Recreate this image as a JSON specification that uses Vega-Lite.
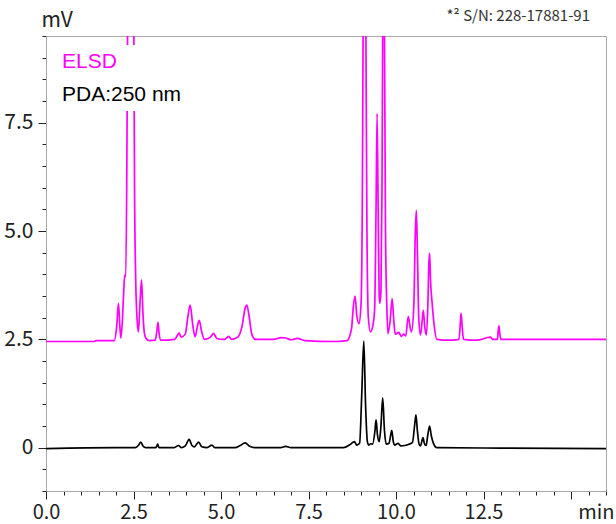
{
  "$schema": "https://vega.github.io/schema/vega-lite/v6.json",
  "width": 560,
  "height": 455,
  "autosize": {"type": "none"},
  "padding": {"left": 46, "top": 36, "right": 10, "bottom": 33},
  "background": "white",
  "config": {
    "font": "Noto Sans CJK JP",
    "view": {"stroke": "#a8a8a8", "strokeWidth": 1},
    "axis": {"labelFont": "Noto Sans CJK JP", "titleFont": "Noto Sans CJK JP", "labelColor": "#222", "titleColor": "#222", "titleFontWeight": "normal", "domainColor": "#a8a8a8", "tickColor": "#222", "grid": false}
  },
  "title": {"text": "*² S/N: 228-17881-91", "anchor": "end", "orient": "top", "fontSize": 15, "fontWeight": "normal", "color": "#333", "dx": -24, "offset": -15, "font": "Noto Sans CJK JP"},
  "data": {"values": [
    {"s":"ELSD","t":0,"v":2.45},{"s":"ELSD","t":1.38,"v":2.45},{"s":"ELSD","t":1.42,"v":2.47},{"s":"ELSD","t":1.95,"v":2.47},
    {"s":"ELSD","t":2.02,"v":2.8},{"s":"ELSD","t":2.07,"v":3.33},{"s":"ELSD","t":2.11,"v":2.8},{"s":"ELSD","t":2.14,"v":2.53},
    {"s":"ELSD","t":2.18,"v":2.9},{"s":"ELSD","t":2.22,"v":3.6},{"s":"ELSD","t":2.25,"v":3.98},{"s":"ELSD","t":2.28,"v":3.95},
    {"s":"ELSD","t":2.31,"v":6.5},{"s":"ELSD","t":2.33,"v":9.6},{"s":"ELSD","t":2.42,"v":18},{"s":"ELSD","t":2.51,"v":9.6},
    {"s":"ELSD","t":2.53,"v":6.0},{"s":"ELSD","t":2.56,"v":4.0},{"s":"ELSD","t":2.6,"v":3.0},{"s":"ELSD","t":2.64,"v":2.67},
    {"s":"ELSD","t":2.69,"v":3.4},{"s":"ELSD","t":2.73,"v":3.87},{"s":"ELSD","t":2.77,"v":3.1},{"s":"ELSD","t":2.81,"v":2.65},
    {"s":"ELSD","t":2.86,"v":2.52},{"s":"ELSD","t":2.95,"v":2.47},{"s":"ELSD","t":3.12,"v":2.48},{"s":"ELSD","t":3.17,"v":2.7},
    {"s":"ELSD","t":3.2,"v":2.89},{"s":"ELSD","t":3.23,"v":2.65},{"s":"ELSD","t":3.28,"v":2.48},{"s":"ELSD","t":3.68,"v":2.5},
    {"s":"ELSD","t":3.76,"v":2.6},{"s":"ELSD","t":3.8,"v":2.65},{"s":"ELSD","t":3.86,"v":2.55},{"s":"ELSD","t":3.98,"v":2.62},
    {"s":"ELSD","t":4.05,"v":3.0},{"s":"ELSD","t":4.12,"v":3.29},{"s":"ELSD","t":4.19,"v":2.85},{"s":"ELSD","t":4.26,"v":2.56},
    {"s":"ELSD","t":4.33,"v":2.82},{"s":"ELSD","t":4.38,"v":2.94},{"s":"ELSD","t":4.44,"v":2.7},{"s":"ELSD","t":4.53,"v":2.5},
    {"s":"ELSD","t":4.7,"v":2.55},{"s":"ELSD","t":4.79,"v":2.64},{"s":"ELSD","t":4.88,"v":2.52},{"s":"ELSD","t":5.1,"v":2.5},
    {"s":"ELSD","t":5.22,"v":2.57},{"s":"ELSD","t":5.3,"v":2.5},{"s":"ELSD","t":5.48,"v":2.55},{"s":"ELSD","t":5.6,"v":2.8},
    {"s":"ELSD","t":5.69,"v":3.22},{"s":"ELSD","t":5.74,"v":3.29},{"s":"ELSD","t":5.8,"v":3.05},{"s":"ELSD","t":5.88,"v":2.62},
    {"s":"ELSD","t":5.98,"v":2.5},{"s":"ELSD","t":6.5,"v":2.5},{"s":"ELSD","t":6.72,"v":2.54},{"s":"ELSD","t":6.85,"v":2.53},
    {"s":"ELSD","t":7.0,"v":2.49},{"s":"ELSD","t":7.18,"v":2.52},{"s":"ELSD","t":7.4,"v":2.47},{"s":"ELSD","t":8.2,"v":2.45},
    {"s":"ELSD","t":8.6,"v":2.47},{"s":"ELSD","t":8.73,"v":2.75},{"s":"ELSD","t":8.78,"v":3.25},{"s":"ELSD","t":8.83,"v":3.5},
    {"s":"ELSD","t":8.88,"v":3.05},{"s":"ELSD","t":8.94,"v":2.86},{"s":"ELSD","t":9.0,"v":3.3},{"s":"ELSD","t":9.04,"v":6.0},
    {"s":"ELSD","t":9.06,"v":9.6},{"s":"ELSD","t":9.1,"v":16},{"s":"ELSD","t":9.14,"v":9.6},{"s":"ELSD","t":9.17,"v":5.0},
    {"s":"ELSD","t":9.21,"v":3.0},{"s":"ELSD","t":9.27,"v":2.67},{"s":"ELSD","t":9.34,"v":2.82},{"s":"ELSD","t":9.39,"v":3.2},
    {"s":"ELSD","t":9.43,"v":5.5},{"s":"ELSD","t":9.46,"v":7.71},{"s":"ELSD","t":9.49,"v":5.5},{"s":"ELSD","t":9.52,"v":3.5},
    {"s":"ELSD","t":9.54,"v":3.33},{"s":"ELSD","t":9.57,"v":3.6},{"s":"ELSD","t":9.6,"v":6.0},{"s":"ELSD","t":9.62,"v":9.6},
    {"s":"ELSD","t":9.645,"v":16},{"s":"ELSD","t":9.67,"v":9.6},{"s":"ELSD","t":9.7,"v":5.0},{"s":"ELSD","t":9.74,"v":3.2},
    {"s":"ELSD","t":9.77,"v":2.63},{"s":"ELSD","t":9.83,"v":2.9},{"s":"ELSD","t":9.89,"v":3.44},{"s":"ELSD","t":9.94,"v":2.9},
    {"s":"ELSD","t":9.98,"v":2.62},{"s":"ELSD","t":10.08,"v":2.66},{"s":"ELSD","t":10.15,"v":2.57},{"s":"ELSD","t":10.22,"v":2.62},
    {"s":"ELSD","t":10.28,"v":2.58},{"s":"ELSD","t":10.35,"v":3.03},{"s":"ELSD","t":10.4,"v":2.8},{"s":"ELSD","t":10.44,"v":2.67},
    {"s":"ELSD","t":10.51,"v":3.3},{"s":"ELSD","t":10.55,"v":4.9},{"s":"ELSD","t":10.58,"v":5.48},{"s":"ELSD","t":10.61,"v":4.6},
    {"s":"ELSD","t":10.65,"v":3.0},{"s":"ELSD","t":10.7,"v":2.6},{"s":"ELSD","t":10.75,"v":2.95},{"s":"ELSD","t":10.78,"v":3.17},
    {"s":"ELSD","t":10.82,"v":2.8},{"s":"ELSD","t":10.87,"v":2.6},{"s":"ELSD","t":10.91,"v":3.3},{"s":"ELSD","t":10.94,"v":4.25},
    {"s":"ELSD","t":10.96,"v":4.49},{"s":"ELSD","t":10.99,"v":3.8},{"s":"ELSD","t":11.03,"v":3.36},{"s":"ELSD","t":11.08,"v":2.9},
    {"s":"ELSD","t":11.17,"v":2.5},{"s":"ELSD","t":11.5,"v":2.48},{"s":"ELSD","t":11.8,"v":2.5},{"s":"ELSD","t":11.84,"v":2.9},
    {"s":"ELSD","t":11.86,"v":3.1},{"s":"ELSD","t":11.89,"v":2.8},{"s":"ELSD","t":11.93,"v":2.5},{"s":"ELSD","t":12.3,"v":2.48},
    {"s":"ELSD","t":12.7,"v":2.55},{"s":"ELSD","t":12.76,"v":2.5},{"s":"ELSD","t":12.9,"v":2.5},{"s":"ELSD","t":12.92,"v":2.7},
    {"s":"ELSD","t":12.94,"v":2.81},{"s":"ELSD","t":12.97,"v":2.6},{"s":"ELSD","t":13.0,"v":2.5},{"s":"ELSD","t":14.5,"v":2.5},
    {"s":"ELSD","t":16,"v":2.5},
    {"s":"PDA:250 nm","t":0,"v":-0.02},{"s":"PDA:250 nm","t":2.0,"v":0},{"s":"PDA:250 nm","t":2.55,"v":0},{"s":"PDA:250 nm","t":2.65,"v":0.06},
    {"s":"PDA:250 nm","t":2.71,"v":0.13},{"s":"PDA:250 nm","t":2.77,"v":0.04},{"s":"PDA:250 nm","t":2.85,"v":0},{"s":"PDA:250 nm","t":3.14,"v":0},
    {"s":"PDA:250 nm","t":3.19,"v":0.08},{"s":"PDA:250 nm","t":3.23,"v":0},{"s":"PDA:250 nm","t":3.65,"v":0},{"s":"PDA:250 nm","t":3.79,"v":0.05},
    {"s":"PDA:250 nm","t":3.86,"v":0},{"s":"PDA:250 nm","t":3.98,"v":0.04},{"s":"PDA:250 nm","t":4.09,"v":0.19},{"s":"PDA:250 nm","t":4.17,"v":0.05},
    {"s":"PDA:250 nm","t":4.24,"v":0.02},{"s":"PDA:250 nm","t":4.36,"v":0.13},{"s":"PDA:250 nm","t":4.45,"v":0.02},{"s":"PDA:250 nm","t":4.6,"v":0},
    {"s":"PDA:250 nm","t":4.74,"v":0.06},{"s":"PDA:250 nm","t":4.82,"v":0},{"s":"PDA:250 nm","t":5.4,"v":0},{"s":"PDA:250 nm","t":5.55,"v":0.05},
    {"s":"PDA:250 nm","t":5.69,"v":0.11},{"s":"PDA:250 nm","t":5.82,"v":0.03},{"s":"PDA:250 nm","t":5.95,"v":0},{"s":"PDA:250 nm","t":6.7,"v":0},
    {"s":"PDA:250 nm","t":6.85,"v":0.03},{"s":"PDA:250 nm","t":7.0,"v":0},{"s":"PDA:250 nm","t":8.5,"v":0},{"s":"PDA:250 nm","t":8.7,"v":0.08},
    {"s":"PDA:250 nm","t":8.81,"v":0.14},{"s":"PDA:250 nm","t":8.88,"v":0.06},{"s":"PDA:250 nm","t":8.96,"v":0.1},{"s":"PDA:250 nm","t":9.02,"v":1.2},
    {"s":"PDA:250 nm","t":9.08,"v":2.46},{"s":"PDA:250 nm","t":9.13,"v":1.0},{"s":"PDA:250 nm","t":9.18,"v":0.15},{"s":"PDA:250 nm","t":9.22,"v":0.06},
    {"s":"PDA:250 nm","t":9.28,"v":0.09},{"s":"PDA:250 nm","t":9.33,"v":0.08},{"s":"PDA:250 nm","t":9.4,"v":0.4},{"s":"PDA:250 nm","t":9.43,"v":0.64},
    {"s":"PDA:250 nm","t":9.47,"v":0.3},{"s":"PDA:250 nm","t":9.52,"v":0.14},{"s":"PDA:250 nm","t":9.57,"v":0.5},{"s":"PDA:250 nm","t":9.62,"v":1.15},
    {"s":"PDA:250 nm","t":9.67,"v":0.4},{"s":"PDA:250 nm","t":9.72,"v":0.08},{"s":"PDA:250 nm","t":9.8,"v":0.1},{"s":"PDA:250 nm","t":9.85,"v":0.3},
    {"s":"PDA:250 nm","t":9.88,"v":0.4},{"s":"PDA:250 nm","t":9.92,"v":0.15},{"s":"PDA:250 nm","t":9.96,"v":0.06},{"s":"PDA:250 nm","t":10.06,"v":0.1},
    {"s":"PDA:250 nm","t":10.14,"v":0.04},{"s":"PDA:250 nm","t":10.25,"v":0.05},{"s":"PDA:250 nm","t":10.37,"v":0.08},{"s":"PDA:250 nm","t":10.47,"v":0.12},
    {"s":"PDA:250 nm","t":10.53,"v":0.5},{"s":"PDA:250 nm","t":10.57,"v":0.76},{"s":"PDA:250 nm","t":10.61,"v":0.4},{"s":"PDA:250 nm","t":10.66,"v":0.08},
    {"s":"PDA:250 nm","t":10.7,"v":0.04},{"s":"PDA:250 nm","t":10.74,"v":0.15},{"s":"PDA:250 nm","t":10.77,"v":0.23},{"s":"PDA:250 nm","t":10.81,"v":0.1},
    {"s":"PDA:250 nm","t":10.86,"v":0.05},{"s":"PDA:250 nm","t":10.91,"v":0.3},{"s":"PDA:250 nm","t":10.96,"v":0.5},{"s":"PDA:250 nm","t":11.01,"v":0.27},
    {"s":"PDA:250 nm","t":11.07,"v":0.1},{"s":"PDA:250 nm","t":11.17,"v":0},{"s":"PDA:250 nm","t":13.0,"v":-0.01},{"s":"PDA:250 nm","t":16,"v":-0.02}
  ]},
  "mark": {"type": "line", "clip": true, "strokeWidth": 1.7, "interpolate": "monotone"},
  "encoding": {
    "x": {
      "field": "t", "type": "quantitative",
      "scale": {"domain": [0, 16], "nice": false, "zero": false},
      "axis": {
        "values": [0,0.5,1,1.5,2,2.5,3,3.5,4,4.5,5,5.5,6,6.5,7,7.5,8,8.5,9,9.5,10,10.5,11,11.5,12,12.5,13,13.5,14,14.5,15,15.5,16],
        "labelExpr": "(datum.value % 2.5 == 0 && datum.value < 14) ? format(datum.value, '.1f') : ''",
        "tickSize": {"condition": {"test": "datum.value % 2.5 == 0", "value": 8}, "value": 4},
        "labelFlush": false, "labelOverlap": false, "labelFontSize": 20, "labelPadding": 3,
        "title": "min", "titleFontSize": 20, "titleAnchor": "end", "titleAlign": "right", "titleBaseline": "top", "titleX": 568, "titleY": 11
      }
    },
    "y": {
      "field": "v", "type": "quantitative",
      "scale": {"domain": [-1, 9.5], "nice": false, "zero": false},
      "axis": {
        "values": [-1,-0.5,0,0.5,1,1.5,2,2.5,3,3.5,4,4.5,5,5.5,6,6.5,7,7.5,8,8.5,9,9.5],
        "labelExpr": "datum.value == 0 ? '0' : ((datum.value == 2.5 || datum.value == 5 || datum.value == 7.5) ? format(datum.value, '.1f') : '')",
        "tickSize": {"condition": {"test": "datum.value % 2.5 == 0", "value": 8}, "value": 4},
        "labelFlush": false, "labelOverlap": false, "labelFontSize": 21, "labelPadding": 5,
        "title": "mV", "titleFontSize": 21, "titleAngle": 0, "titleAlign": "left", "titleBaseline": "middle", "titleX": -5, "titleY": -16
      }
    },
    "color": {
      "field": "s", "type": "nominal",
      "scale": {"domain": ["ELSD", "PDA:250 nm"], "range": ["#ff00ff", "#000000"]},
      "legend": {
        "title": null, "orient": "top-left", "offset": 9, "padding": 6, "fillColor": "white",
        "symbolSize": 0, "symbolStrokeWidth": 0, "symbolOpacity": 0, "labelOffset": -20,
        "labelFontSize": 21, "labelFont": "Liberation Sans", "rowPadding": 11,
        "encode": {"labels": {"update": {"fill": {"scale": "color", "field": "value"}}}}
      }
    }
  }
}
